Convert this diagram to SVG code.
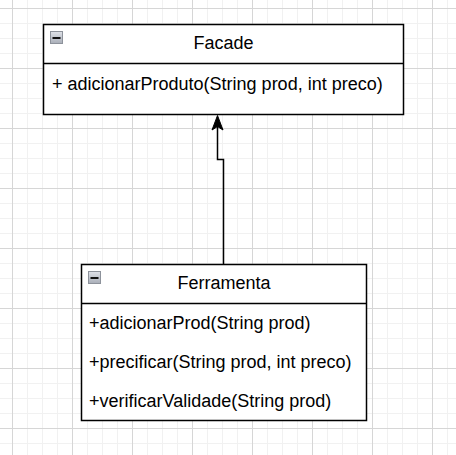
<svg xmlns="http://www.w3.org/2000/svg" width="456" height="455" viewBox="0 0 456 455">
<style>
.box{fill:#ffffff;stroke:#000000;stroke-width:1.5}
.div{stroke:#000000;stroke-width:1.5;fill:none}
.title{font-family:"Liberation Sans",Arial,sans-serif;font-size:18px;fill:#000000;text-anchor:middle}
.item{font-family:"Liberation Sans",Arial,sans-serif;font-size:18px;fill:#000000}
.edge{fill:none;stroke:#000000;stroke-width:1.5}
.icon{fill:url(#ig);stroke:#8d929b;stroke-width:1}
.minus{fill:#111111}
</style>
<defs>
<linearGradient id="ig" x1="0" y1="0" x2="0" y2="1">
<stop offset="0" stop-color="#dfe2e8"/>
<stop offset="1" stop-color="#a9aeb8"/>
</linearGradient>
<pattern id="grid" x="12" y="8" width="60" height="60" patternUnits="userSpaceOnUse">
<path d="M15.5,0V60M30.5,0V60M45.5,0V60M0,15.5H60M0,30.5H60M0,45.5H60" stroke="#f1f1f1" stroke-width="1" fill="none"/>
<path d="M0.5,0V60M0,0.5H60" stroke="#d6d6d6" stroke-width="1" fill="none"/>
</pattern>
</defs>
<rect x="0" y="0" width="456" height="455" fill="#ffffff"/>
<rect x="0" y="0" width="456" height="455" fill="url(#grid)"/>
<g id="connectors">
<path class="edge" d="M223.5,264 L223.5,159.5 L217.5,159.5 L217.5,126"/>
<path d="M217.5,115.5 L223,130 L217.5,126.5 L212,130 Z" fill="#000000" stroke="#000000" stroke-width="1"/>
</g>
<g id="Facade">
<rect class="box" x="43.5" y="24.5" width="360" height="90"/>
<line class="div" x1="43.5" y1="63.5" x2="403.5" y2="63.5"/>
<rect class="icon" x="50.5" y="31.5" width="12" height="12"/>
<rect class="minus" x="52.5" y="37" width="8" height="2"/>
<text class="title" x="223.5" y="49">Facade</text>
<text class="item" x="52" y="90">+ adicionarProduto(String prod, int preco)</text>
</g>
<g id="Ferramenta">
<rect class="box" x="81.5" y="264.5" width="285" height="156"/>
<line class="div" x1="81.5" y1="303.5" x2="366.5" y2="303.5"/>
<rect class="icon" x="88.5" y="271.5" width="12" height="12"/>
<rect class="minus" x="90.5" y="277" width="8" height="2"/>
<text class="title" x="224" y="289">Ferramenta</text>
<text class="item" x="89" y="329">+adicionarProd(String prod)</text>
<text class="item" x="89" y="368">+precificar(String prod, int preco)</text>
<text class="item" x="89" y="407">+verificarValidade(String prod)</text>
</g>
</svg>
